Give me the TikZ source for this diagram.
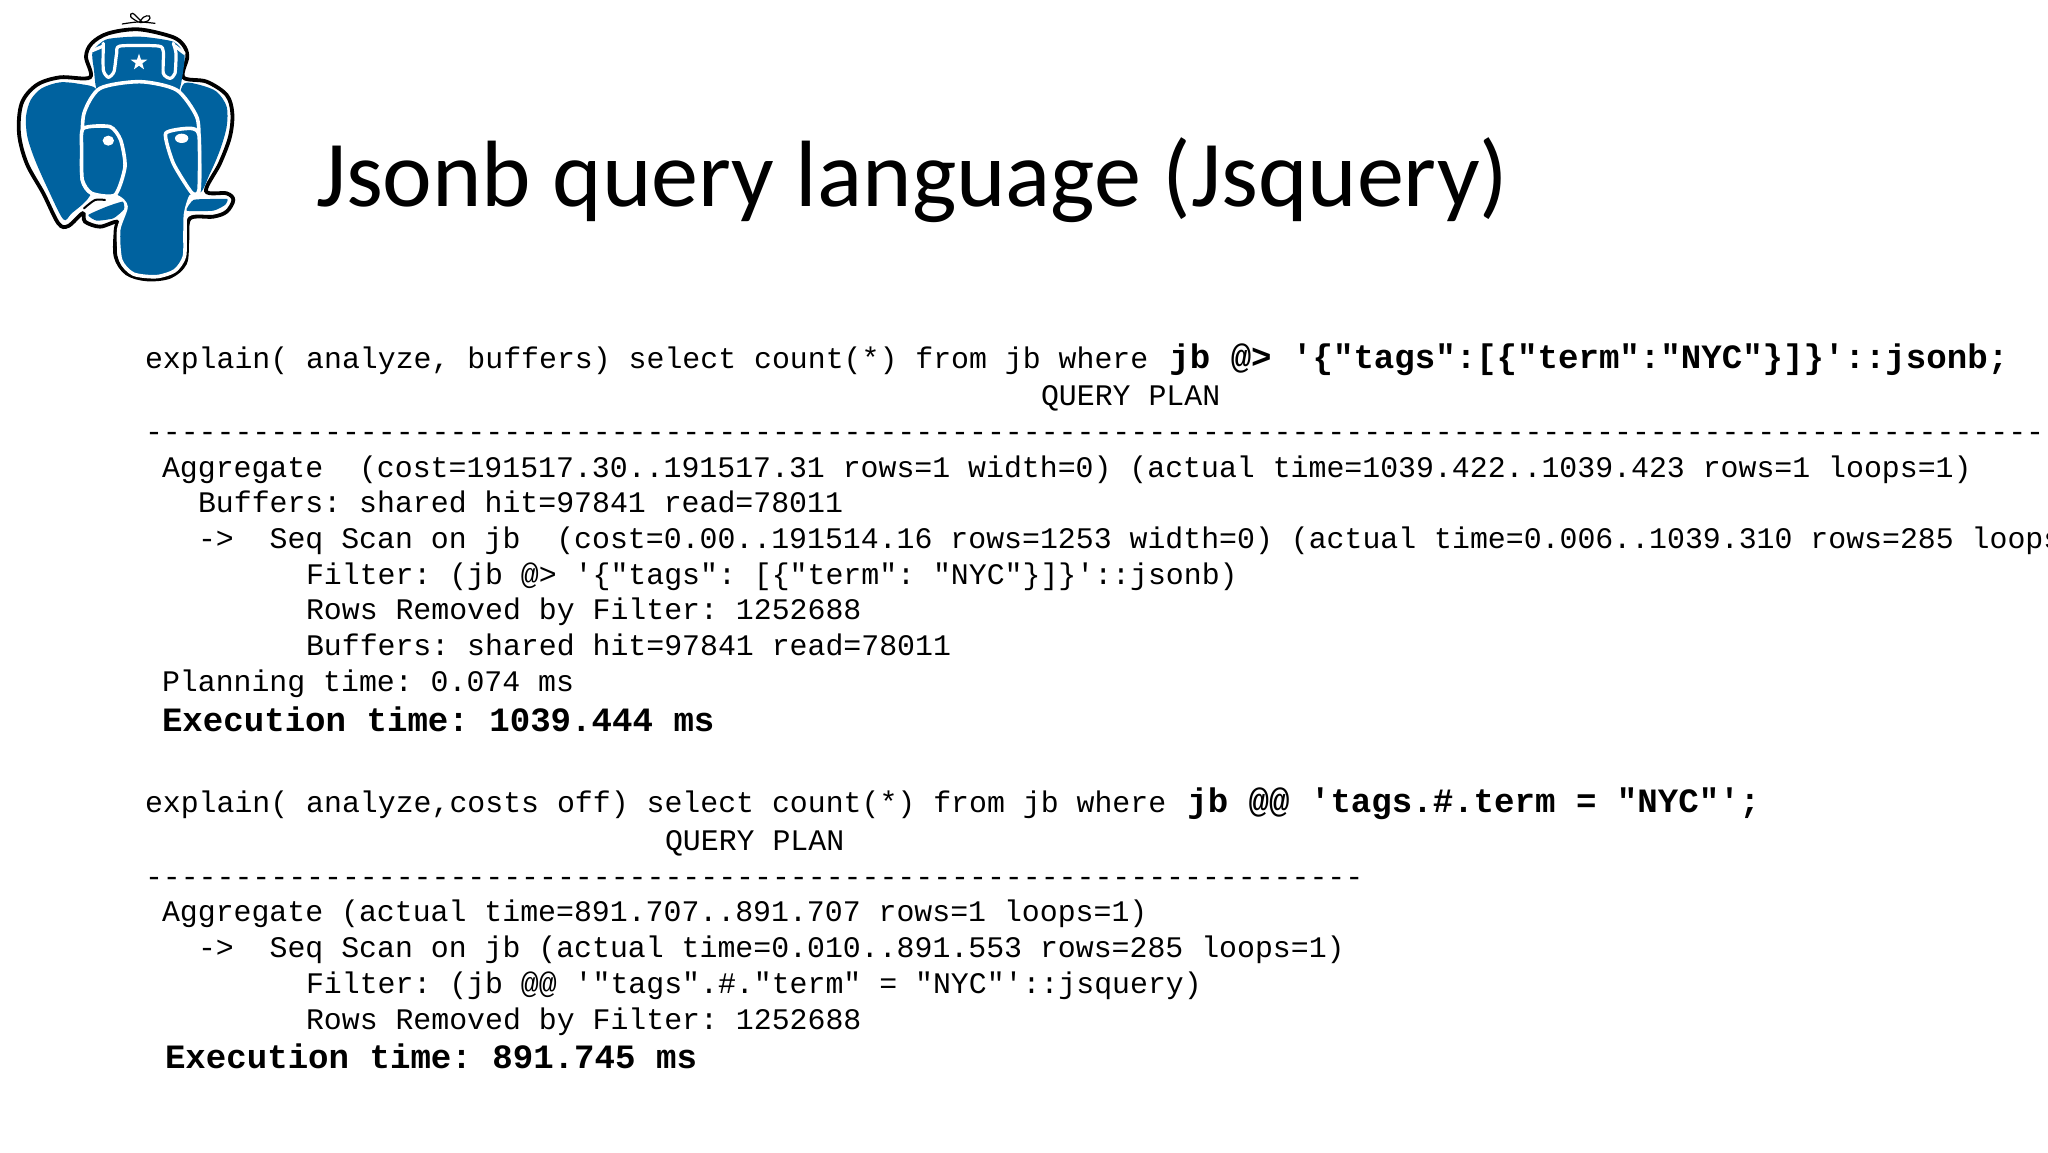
\documentclass[tikz,border=0pt]{standalone}
\usepackage{fontspec}
\setmainfont{Carlito}
\newfontfamily\monof{Liberation Mono}
\newcommand{\reg}{\monof\fontsize{29.86}{32}\selectfont\frenchspacing}
\newcommand{\bld}{\monof\bfseries\fontsize{34.1}{36}\selectfont\frenchspacing}
\definecolor{pgblue}{HTML}{00629F}
\tikzset{
  codeline/.style={anchor=base west,inner sep=0pt,outer sep=0pt,font=\reg},
  boldline/.style={anchor=base west,inner sep=0pt,outer sep=0pt,font=\bld},
  titletext/.style={anchor=base west,inner sep=0pt,outer sep=0pt,font=\fontsize{94.2}{100}\selectfont},
  blueregion/.style={fill=pgblue,draw=none},
  bluepanel/.style={fill=pgblue,draw=white,line width=3.6pt,line join=round},
  whiteline/.style={draw=white,line width=3.2pt,line cap=round,line join=round},
}
\begin{document}
\begin{tikzpicture}[x=1pt,y=-1pt]
\useasboundingbox (0,0) rectangle (2048,1152);
\fill[white] (0,0) rectangle (2048,1152);
% logo
\begin{scope}[scale=1/3]
  \draw[black,line width=3.8pt,fill=white] plot[smooth cycle,tension=0.55] coordinates {
    (270,232)(258,170)(275,130)(325,100)(415,88)(515,110)(550,135)(562,170)(550,232)
    (620,245)(680,285)(697,340)(690,410)(660,490)(618,573)(680,580)(700,600)(680,635)
    (640,650)(570,655)(562,720)(555,790)(510,830)(440,838)(380,820)(347,770)(347,690)
    (350,665)(300,680)(255,665)(248,640)(205,678)(175,670)(130,580)(80,490)(57,400)
    (65,310)(110,255)(180,232)};
  \draw[black,line width=1.2pt,line cap=round] plot[smooth,tension=0.6] coordinates {(367,72)(415,66)(465,70)};
  \draw[black,line width=1.2pt] plot[smooth,tension=0.8] coordinates {(415,66)(392,50)(398,40)(412,52)(428,68)};
  \draw[black,line width=1.2pt] plot[smooth,tension=0.8] coordinates {(418,68)(430,52)(448,48)(445,62)(420,68)};
  % ears
  \fill[blueregion] plot[smooth cycle,tension=0.5] coordinates {
    (290,268)(240,252)(180,247)(125,265)(92,300)(78,350)(82,410)(105,480)(145,570)
    (190,658)(215,640)(268,590)(300,500)(300,340)};
  \fill[blueregion] plot[smooth cycle,tension=0.5] coordinates {
    (553,250)(600,255)(650,275)(680,320)(680,380)(660,450)(630,520)(597,575)(560,430)(540,300)};
  % hat
  \fill[blueregion] plot[smooth cycle,tension=0.4] coordinates {
    (278,155)(320,118)(420,110)(520,125)(552,160)(552,195)(535,275)(480,260)(420,253)(340,260)(292,272)(282,210)};
  \draw[whiteline] plot[smooth,tension=0.4] coordinates {
    (310,130)(310,210)(325,232)(342,215)(350,160)(360,138)(475,138)(490,155)(490,220)(510,235)(525,220)(528,160)(520,130)};
  \draw[whiteline] (277,152) -- (310,138);
  \draw[whiteline] (525,138) -- (553,160);
  \fill[white] (417,161)--(423,179)--(442,179)--(427,190)--(432,208)--(417,197)--(402,208)--(407,190)--(392,179)--(411,179)--cycle;
  % head and trunk
  \draw[bluepanel] plot[smooth cycle,tension=0.45] coordinates {
    (247,440)(252,340)(300,265)(420,245)(530,270)(590,350)(597,430)(597,570)(572,590)(557,640)
    (555,700)(553,770)(525,812)(470,830)(400,822)(362,780)(356,690)(378,620)(350,590)(275,580)(247,540)};
  % eye panels
  \draw[bluepanel] plot[smooth cycle,tension=0.4] coordinates {(250,385)(330,380)(362,420)(375,500)(345,585)(275,580)(247,540)(245,450)};
  \draw[bluepanel] plot[smooth cycle,tension=0.35] coordinates {(497,400)(570,385)(597,405)(597,570)(575,578)(520,490)};
  \fill[white] (325,422) ellipse [x radius=17,y radius=15];
  \fill[white] (545,415) ellipse [x radius=20,y radius=14];
  % tusks
  \fill[blueregion] plot[smooth cycle,tension=0.3] coordinates {(580,600)(630,597)(682,597)(675,615)(640,632)(560,632)};
  \fill[blueregion] plot[smooth cycle,tension=0.3] coordinates {(265,645)(320,620)(368,605)(372,628)(340,655)(290,662)};
  \draw[black,line width=2pt,line cap=round] plot[smooth,tension=0.5] coordinates {(252,625)(285,600)(315,600)};
\end{scope}
% title
\node[titletext] (title) at (316,206) {Jsonb query language (Jsquery)};
% first plan
\node[codeline] (e1) at (145,368) {explain( analyze, buffers) select count(*) from jb where \hspace*{3pt}{\bld jb @> '\{"tags":[\{"term":"NYC"\}]\}'::jsonb;}};
\node[codeline] (q1) at (1041,405) {QUERY PLAN};
\node[codeline] (d1) at (145,441) {----------------------------------------------------------------------------------------------------------};
\node[codeline] (a1) at (162,477) {Aggregate~~(cost=191517.30..191517.31 rows=1 width=0) (actual time=1039.422..1039.423 rows=1 loops=1)};
\node[codeline] (b1) at (198,512) {Buffers: shared hit=97841 read=78011};
\node[codeline] (s1) at (198,548) {->~~Seq Scan on jb~~(cost=0.00..191514.16 rows=1253 width=0) (actual time=0.006..1039.310 rows=285 loops};
\node[codeline] (f1) at (306,584) {Filter: (jb @> '\{"tags": [\{"term": "NYC"\}]\}'::jsonb)};
\node[codeline] (r1) at (306,619) {Rows Removed by Filter: 1252688};
\node[codeline] (c1) at (306,655) {Buffers: shared hit=97841 read=78011};
\node[codeline] (p1) at (162,691) {Planning time: 0.074 ms};
\node[boldline] (x1) at (162,731) {Execution time: 1039.444 ms};
% second plan
\node[codeline] (e2) at (145,812) {explain( analyze,costs off) select count(*) from jb where \hspace*{3pt}{\bld jb @@ 'tags.\#.term = "NYC"';}};
\node[codeline] (q2) at (665,850) {QUERY PLAN};
\node[codeline] (d2) at (145,886) {--------------------------------------------------------------------};
\node[codeline] (a2) at (162,921) {Aggregate (actual time=891.707..891.707 rows=1 loops=1)};
\node[codeline] (s2) at (198,957) {->~~Seq Scan on jb (actual time=0.010..891.553 rows=285 loops=1)};
\node[codeline] (f2) at (306,993) {Filter: (jb @@ '"tags".\#."term" = "NYC"'::jsquery)};
\node[codeline] (r2) at (306,1029) {Rows Removed by Filter: 1252688};
\node[boldline] (x2) at (165,1068) {Execution time: 891.745 ms};
\end{tikzpicture}
\end{document}
